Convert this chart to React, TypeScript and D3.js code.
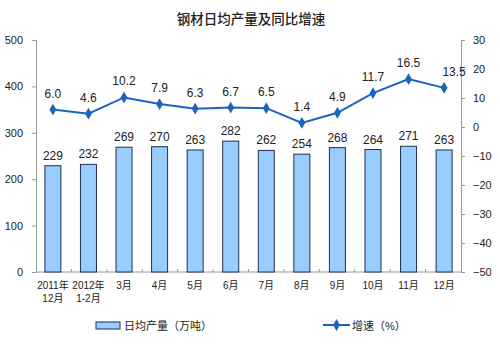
import React, { useEffect, useRef } from "react";
import * as d3 from "d3";

const categories = ["2011年\n12月", "2012年\n1-2月", "3月", "4月", "5月", "6月", "7月", "8月", "9月", "10月", "11月", "12月"];
const output = [229, 232, 269, 270, 263, 282, 262, 254, 268, 264, 271, 263];
const growth = [6.0, 4.6, 10.2, 7.9, 6.3, 6.7, 6.5, 1.4, 4.9, 11.7, 16.5, 13.5];
const leftTicks = [0, 100, 200, 300, 400, 500];
const rightTicks = [-50, -40, -30, -20, -10, 0, 10, 20, 30];

const FONT = "'Liberation Sans', 'Noto Sans CJK SC', sans-serif";

const App = () => {
  const ref = useRef<SVGSVGElement>(null);

  useEffect(() => {
    const svg = d3.select(ref.current);
    svg.selectAll("*").remove();

    const left = 36, right = 461, top = 40, bottom = 272;
    const x = d3.scaleBand().domain(categories).range([left, right]).paddingInner(0.55).paddingOuter(0.25);
    const yL = d3.scaleLinear().domain([0, 500]).range([bottom, top]);
    const yR = d3.scaleLinear().domain([-50, 30]).range([bottom, top]);

    // title
    svg.append("text").attr("x", 251).attr("y", 24).attr("text-anchor", "middle")
      .attr("font-size", 13.5).attr("font-weight", 500).attr("fill", "#222")
      .text("钢材日均产量及同比增速");

    // left axis
    const gl = svg.append("g").attr("transform", `translate(${left},0)`)
      .call(d3.axisLeft(yL).tickValues(leftTicks).tickSize(4).tickPadding(9));
    // right axis
    const gr = svg.append("g").attr("transform", `translate(${right},0)`)
      .call(d3.axisRight(yR).tickValues(rightTicks).tickSize(4).tickPadding(8));
    [gl, gr].forEach((g) => {
      g.select(".domain").attr("stroke", "#999");
      g.selectAll(".tick line").attr("stroke", "#999");
      g.selectAll("text").attr("font-size", 11).attr("font-family", FONT).attr("fill", "#222");
    });

    // bottom axis line + small ticks between bands
    svg.append("line").attr("x1", left).attr("x2", right).attr("y1", bottom).attr("y2", bottom).attr("stroke", "#999");
    d3.range(1, categories.length).forEach((i) => {
      const tx = left + (right - left) / categories.length * i;
      svg.append("line").attr("x1", tx).attr("x2", tx).attr("y1", bottom).attr("y2", bottom - 3).attr("stroke", "#999");
    });

    // category labels
    categories.forEach((c) => {
      const t = svg.append("text").attr("x", x(c)! + x.bandwidth() / 2).attr("y", bottom + 17)
        .attr("text-anchor", "middle").attr("font-size", 10).attr("fill", "#222");
      c.split("\n").forEach((s, i) => {
        t.append("tspan").attr("x", x(c)! + x.bandwidth() / 2).attr("dy", i === 0 ? 0 : 13).text(s);
      });
    });

    // bars
    svg.selectAll(".bar").data(output).join("rect").attr("class", "bar")
      .attr("x", (d, i) => x(categories[i])!)
      .attr("y", (d) => yL(d))
      .attr("width", x.bandwidth())
      .attr("height", (d) => bottom - yL(d))
      .attr("fill", "#99ccff").attr("stroke", "#1f2f4f").attr("stroke-width", 1);

    svg.selectAll(".blabel").data(output).join("text").attr("class", "blabel")
      .attr("x", (d, i) => x(categories[i])! + x.bandwidth() / 2)
      .attr("y", (d) => yL(d) - 6)
      .attr("text-anchor", "middle").attr("font-size", 12).attr("font-family", FONT).attr("fill", "#222")
      .text((d) => d);

    // line
    const cx = (i: number) => x(categories[i])! + x.bandwidth() / 2;
    const ln = d3.line<number>().x((d, i) => cx(i)).y((d) => yR(d));
    svg.append("path").datum(growth).attr("d", ln).attr("fill", "none").attr("stroke", "#1a63c0").attr("stroke-width", 2);
    const diamond = d3.symbol().type(d3.symbolDiamond).size(40);
    svg.selectAll(".pt").data(growth).join("path").attr("class", "pt")
      .attr("d", diamond).attr("transform", (d, i) => `translate(${cx(i)},${yR(d)})`)
      .attr("fill", "#1a63c0");
    svg.selectAll(".llabel").data(growth).join("text").attr("class", "llabel")
      .attr("x", (d, i) => cx(i) + (i === growth.length - 1 ? 10 : 0))
      .attr("y", (d) => yR(d) - 12)
      .attr("text-anchor", "middle").attr("font-size", 12).attr("font-family", FONT).attr("fill", "#222")
      .text((d) => d.toFixed(1));

    // legend
    svg.append("rect").attr("x", 96).attr("y", 322).attr("width", 24).attr("height", 7)
      .attr("fill", "#99ccff").attr("stroke", "#1f2f4f");
    svg.append("text").attr("x", 124).attr("y", 330).attr("font-size", 11).attr("fill", "#222").text("日均产量（万吨）");
    svg.append("line").attr("x1", 323).attr("x2", 350).attr("y1", 325).attr("y2", 325).attr("stroke", "#1a63c0").attr("stroke-width", 2);
    svg.append("path").attr("d", diamond).attr("transform", "translate(336.5,325)").attr("fill", "#1a63c0");
    svg.append("text").attr("x", 352).attr("y", 330).attr("font-size", 11).attr("fill", "#222").text("增速（%）");
  }, []);

  return (
    <svg ref={ref} width={500} height={354}
      style={{ position: "absolute", left: 0, top: 0, background: "#fff", fontFamily: FONT }} />
  );
};

export default App;
